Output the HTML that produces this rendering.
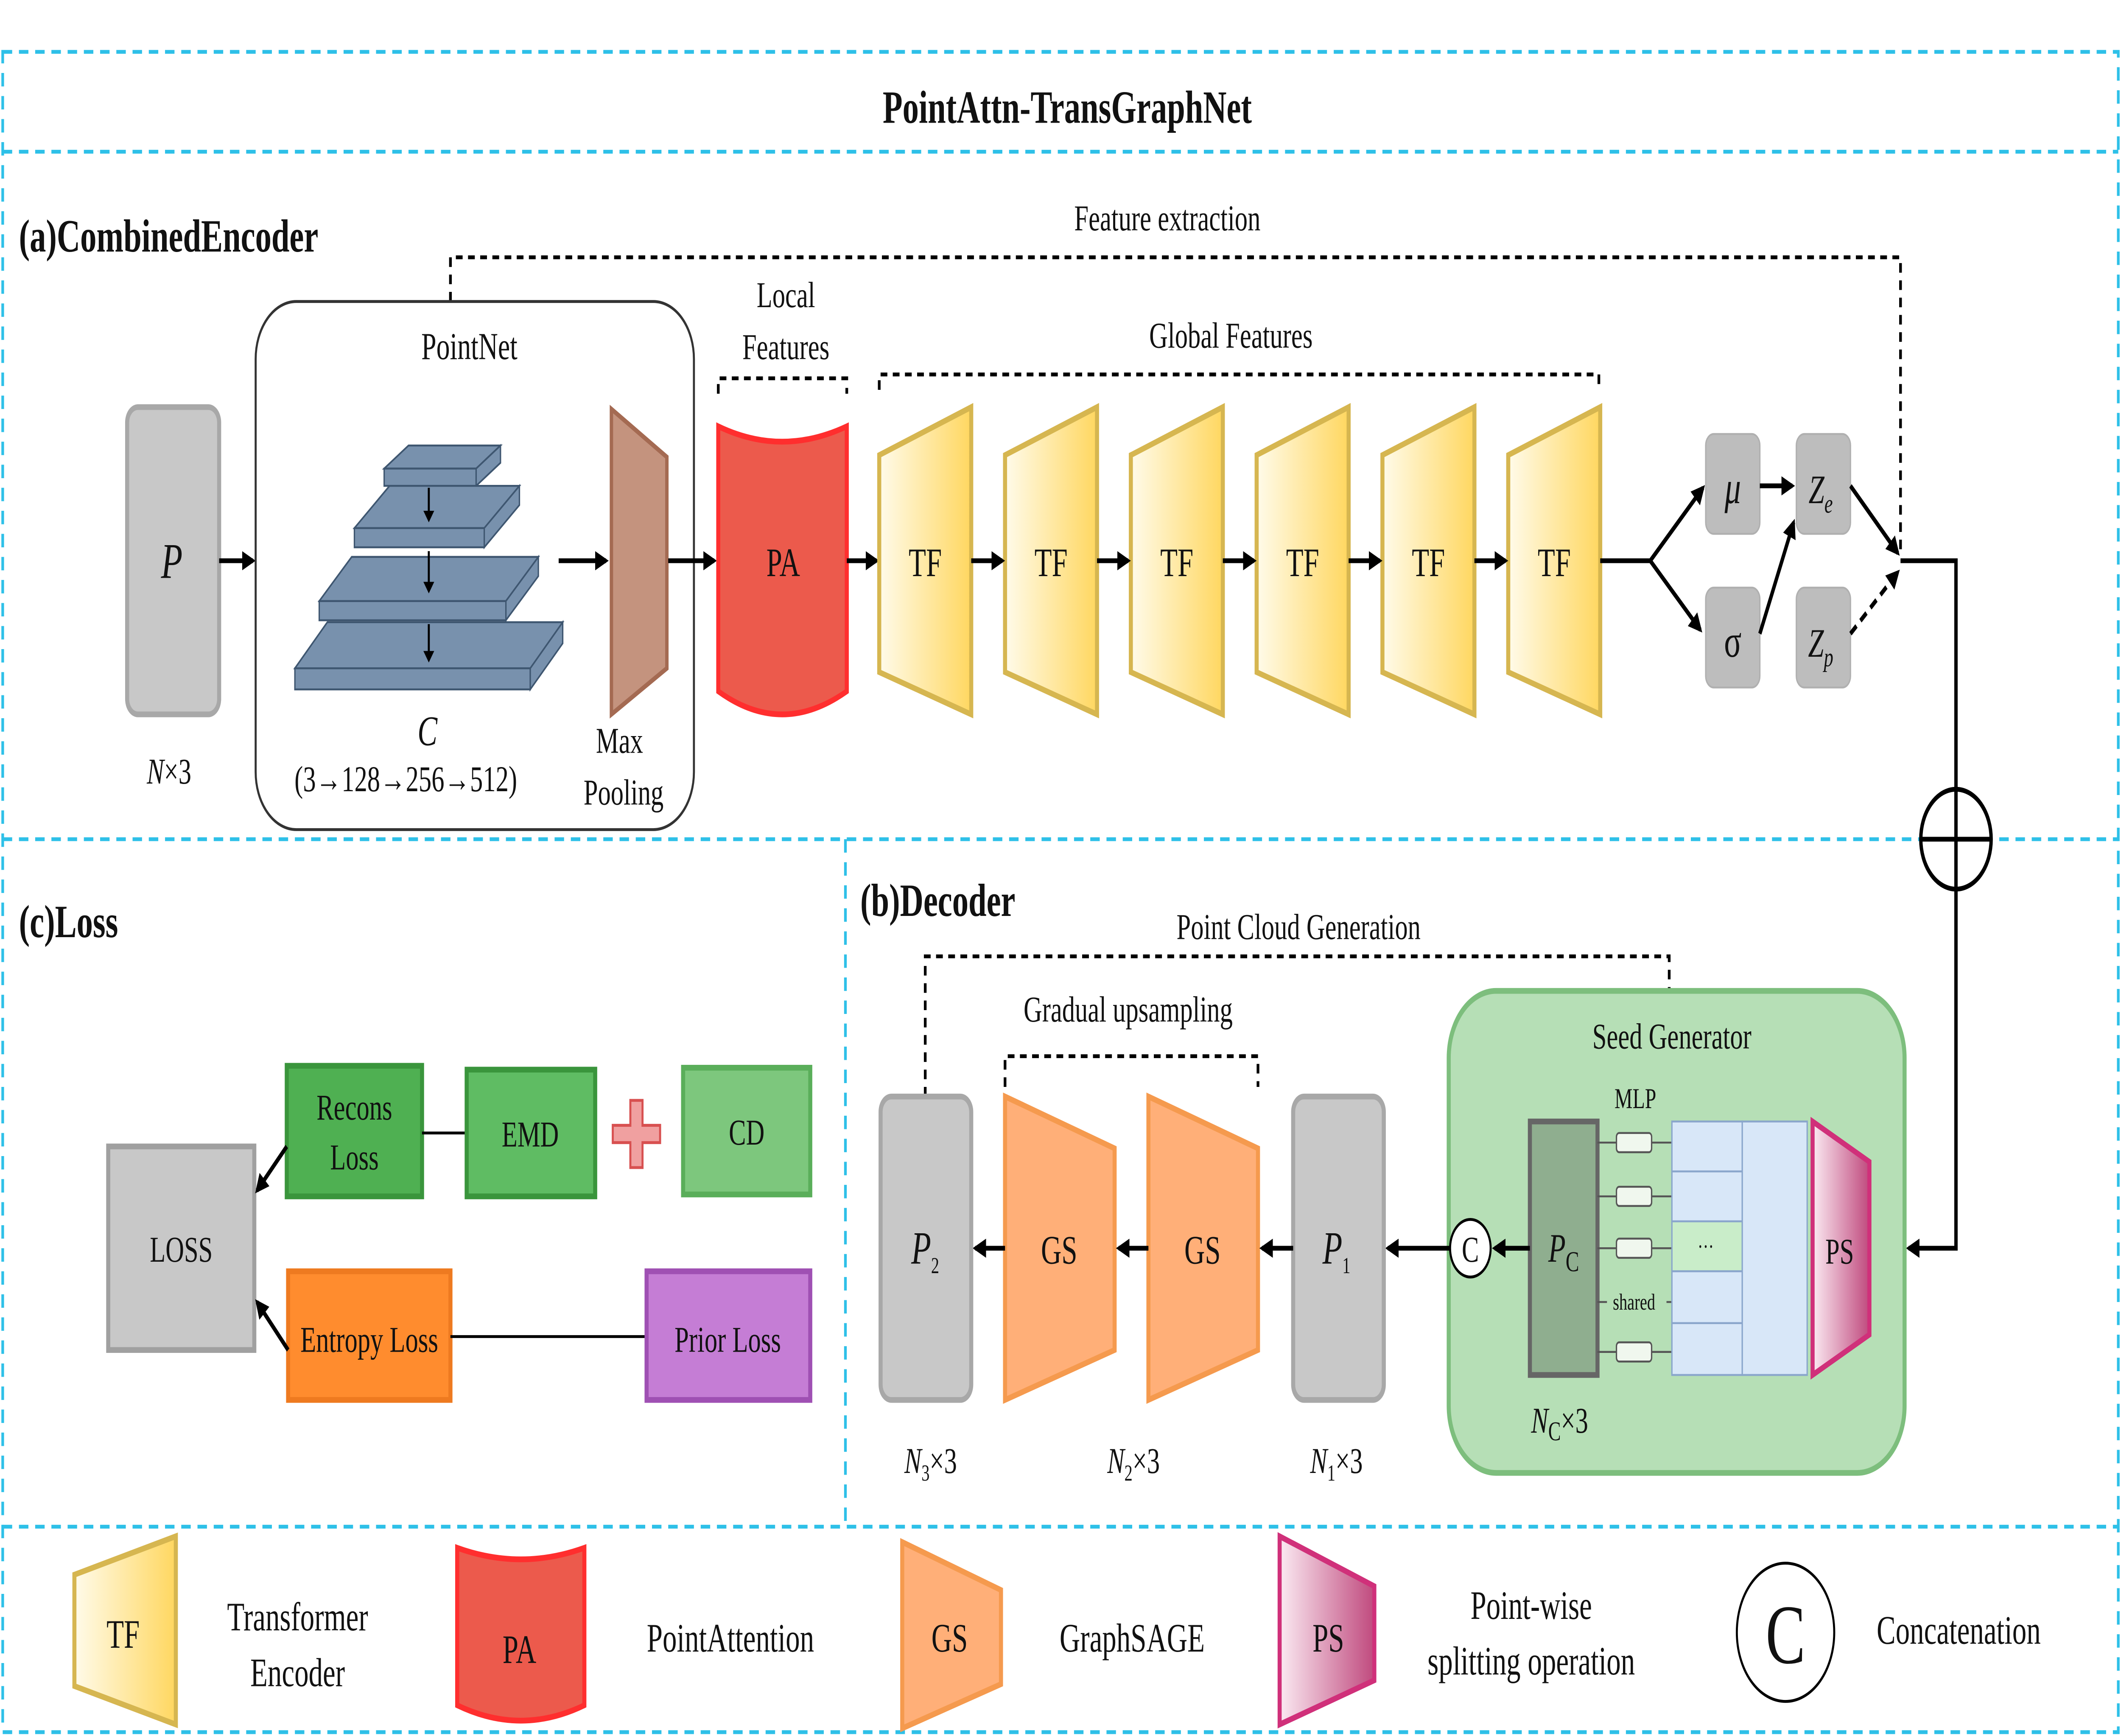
<!DOCTYPE html>
<html><head><meta charset="utf-8"><style>
html,body{margin:0;padding:0;background:#fff;overflow:hidden;width:100%;height:100%}
svg{display:block;width:100vw;height:100vh}
text{font-family:"Liberation Serif",serif;fill:#111}
</style></head><body>
<svg viewBox="0 0 1568 904" preserveAspectRatio="none" xmlns="http://www.w3.org/2000/svg">
<defs>
<marker id="ar" markerWidth="10" markerHeight="10" refX="8" refY="5" orient="auto" markerUnits="userSpaceOnUse"><path d="M0,0 L10,5 L0,10 z" fill="#000"/></marker>
<linearGradient id="tf" x1="0" x2="1" y1="0" y2="0"><stop offset="0" stop-color="#FFFBEA"/><stop offset="1" stop-color="#FFD760"/></linearGradient>
<linearGradient id="ps" x1="0" x2="1"><stop offset="0" stop-color="#FBEAF2"/><stop offset="1" stop-color="#C04A7E"/></linearGradient>
</defs>
<rect width="1568" height="904" fill="#fff"/>
<g stroke="#2EC0E8" stroke-width="2" stroke-dasharray="7,5" fill="none">
<rect x="2" y="27" width="1564" height="875"/>
<line x1="2" y1="79" x2="1566" y2="79"/>
<line x1="2" y1="437" x2="1566" y2="437"/>
<line x1="625" y1="437" x2="625" y2="795"/>
<line x1="2" y1="795" x2="1566" y2="795"/>
</g>
<text x="789" y="64" font-size="24" font-weight="bold" text-anchor="middle">PointAttn-TransGraphNet</text>
<text x="14" y="131" font-size="24" font-weight="bold">(a)CombinedEncoder</text>

<polyline points="333,157 333,134 1405,134 1405,286" fill="none" stroke="#000" stroke-width="2" stroke-dasharray="5,4"/>
<text x="863" y="120" font-size="19" text-anchor="middle">Feature extraction</text>

<rect x="94" y="212" width="68" height="160" rx="8" fill="#C8C8C8" stroke="#A8A8A8" stroke-width="3"/>
<text x="127" y="301" font-size="26" font-style="italic" text-anchor="middle">P</text>
<text x="125" y="408" font-size="19" text-anchor="middle"><tspan font-style="italic">N</tspan>×3</text>
<line x1="162" y1="292" x2="187" y2="292" stroke="#000" stroke-width="2.5" marker-end="url(#ar)"/>

<rect x="189" y="157" width="324" height="275" rx="30" fill="none" stroke="#333" stroke-width="1.5"/>
<text x="347" y="187" font-size="20" text-anchor="middle">PointNet</text>
<g fill="#7891AD" stroke="#3E5670" stroke-width="1">
<polygon points="284,244 352,244 370,232 302,232" /><rect x="284" y="244" width="68" height="9"/><polygon points="352,244 370,232 370,241 352,253"/>
<polygon points="262,275 358,275 384,253 288,253"/><rect x="262" y="275" width="96" height="10"/><polygon points="358,275 384,253 384,263 358,285"/>
<polygon points="236,313 374,313 398,290 260,290"/><rect x="236" y="313" width="138" height="10"/><polygon points="374,313 398,290 398,300 374,323"/>
<polygon points="218,348 392,348 416,324 242,324"/><rect x="218" y="348" width="174" height="11"/><polygon points="392,348 416,324 416,335 392,359"/>
</g>
<g stroke="#000" stroke-width="1.5"><line x1="317" y1="254" x2="317" y2="268"/><line x1="317" y1="287" x2="317" y2="305"/><line x1="317" y1="325" x2="317" y2="341"/></g>
<g fill="#000"><path d="M313,266 L321,266 L317,272z"/><path d="M313,303 L321,303 L317,309z"/><path d="M313,339 L321,339 L317,345z"/></g>
<text x="316" y="388" font-size="22" font-style="italic" text-anchor="middle">C</text>
<text x="300" y="412" font-size="19" text-anchor="middle">(3→128→256→512)</text>
<polygon points="452,213 493,238 493,348 452,372" fill="#C4937E" stroke="#A46A52" stroke-width="2.5"/>
<text x="458" y="392" font-size="19" text-anchor="middle">Max</text>
<text x="461" y="419" font-size="19" text-anchor="middle">Pooling</text>
<line x1="413" y1="292" x2="448" y2="292" stroke="#000" stroke-width="2.5" marker-end="url(#ar)"/>
<line x1="494" y1="292" x2="528" y2="292" stroke="#000" stroke-width="2.5" marker-end="url(#ar)"/>

<path d="M531,222 Q578,238 626,222 L626,360 Q578,384 531,360 Z" fill="#EC5A4C" stroke="#FF2E2E" stroke-width="3"/>
<text x="579" y="300" font-size="21" text-anchor="middle">PA</text>
<text x="581" y="160" font-size="19" text-anchor="middle">Local</text>
<text x="581" y="187" font-size="19" text-anchor="middle">Features</text>
<polyline points="531,205 531,197 626,197 626,205" fill="none" stroke="#000" stroke-width="2" stroke-dasharray="5,4"/>
<line x1="626" y1="292" x2="648" y2="292" stroke="#000" stroke-width="2.5" marker-end="url(#ar)"/>

<g stroke="#D6B650" stroke-width="3" fill="url(#tf)">
<polygon points="650,237 718,212 718,372 650,350"/>
<polygon points="743,237 811,212 811,372 743,350"/>
<polygon points="836,237 904,212 904,372 836,350"/>
<polygon points="929,237 997,212 997,372 929,350"/>
<polygon points="1022,237 1090,212 1090,372 1022,350"/>
<polygon points="1115,237 1183,212 1183,372 1115,350"/>
</g>
<g font-size="21" text-anchor="middle">
<text x="684" y="300">TF</text><text x="777" y="300">TF</text><text x="870" y="300">TF</text><text x="963" y="300">TF</text><text x="1056" y="300">TF</text><text x="1149" y="300">TF</text>
</g>
<g stroke="#000" stroke-width="2.5" marker-end="url(#ar)">
<line x1="718" y1="292" x2="741" y2="292"/><line x1="811" y1="292" x2="834" y2="292"/><line x1="904" y1="292" x2="927" y2="292"/><line x1="997" y1="292" x2="1020" y2="292"/><line x1="1090" y1="292" x2="1113" y2="292"/>
</g>
<polyline points="650,203 650,195 1182,195 1182,203" fill="none" stroke="#000" stroke-width="2" stroke-dasharray="5,4"/>
<text x="910" y="181" font-size="19" text-anchor="middle">Global Features</text>

<polyline points="1183,292 1220,292" stroke="#000" stroke-width="2.5" fill="none"/>
<line x1="1220" y1="292" x2="1259" y2="254" stroke="#000" stroke-width="2.5" marker-end="url(#ar)"/>
<line x1="1220" y1="292" x2="1257" y2="328" stroke="#000" stroke-width="2.5" marker-end="url(#ar)"/>
<g fill="#BDBDBD" stroke="#B0B0B0"><rect x="1261" y="226" width="40" height="52" rx="6"/><rect x="1261" y="306" width="40" height="52" rx="6"/><rect x="1328" y="226" width="40" height="52" rx="6"/><rect x="1328" y="306" width="40" height="52" rx="6"/></g>
<text x="1281" y="262" font-size="24" font-style="italic" text-anchor="middle">μ</text>
<text x="1281" y="342" font-size="24" text-anchor="middle">σ</text>
<text x="1346" y="262" font-size="21" font-style="italic" text-anchor="middle">Z<tspan font-size="14" dy="5">e</tspan></text>
<text x="1346" y="342" font-size="21" font-style="italic" text-anchor="middle">Z<tspan font-size="14" dy="5">p</tspan></text>
<line x1="1301" y1="253" x2="1325" y2="253" stroke="#000" stroke-width="2.5" marker-end="url(#ar)"/>
<line x1="1301" y1="330" x2="1326" y2="272" stroke="#000" stroke-width="2.5" marker-end="url(#ar)"/>
<line x1="1368" y1="253" x2="1403" y2="288" stroke="#000" stroke-width="2.5" marker-end="url(#ar)"/>
<line x1="1368" y1="330" x2="1403" y2="298" stroke="#000" stroke-width="2.5" stroke-dasharray="6,4" marker-end="url(#ar)"/>
<polyline points="1405,292 1446,292 1446,411" fill="none" stroke="#000" stroke-width="2.5"/>
<circle cx="1446" cy="437" r="26" fill="#fff" stroke="#000" stroke-width="2.5"/>
<line x1="1420" y1="437" x2="1472" y2="437" stroke="#000" stroke-width="2.5"/>
<line x1="1446" y1="411" x2="1446" y2="463" stroke="#000" stroke-width="2.5"/>
<polyline points="1446,463 1446,650 1411,650" fill="none" stroke="#000" stroke-width="2.5" marker-end="url(#ar)"/>

<text x="636" y="477" font-size="24" font-weight="bold">(b)Decoder</text>
<polyline points="684,571 684,498 1234,498 1234,516" fill="none" stroke="#000" stroke-width="2" stroke-dasharray="5,4"/>
<text x="960" y="489" font-size="19" text-anchor="middle">Point Cloud Generation</text>
<rect x="1071" y="516" width="337" height="251" rx="35" fill="#B6DFB6" stroke="#7DBE7D" stroke-width="3"/>
<text x="1236" y="546" font-size="19" text-anchor="middle">Seed Generator</text>
<text x="1209" y="577" font-size="15" text-anchor="middle">MLP</text>
<rect x="1131" y="584" width="50" height="132" fill="#8FAE8F" stroke="#666" stroke-width="3"/>
<text x="1156" y="657" font-size="21" font-style="italic" text-anchor="middle">P<tspan font-size="15" font-style="normal" dy="5">C</tspan></text>
<g stroke="#555" stroke-width="1" fill="#F0F7EE">
<line x1="1181" y1="595" x2="1236" y2="595"/><line x1="1181" y1="623" x2="1236" y2="623"/><line x1="1181" y1="650" x2="1236" y2="650"/><line x1="1181" y1="678" x2="1236" y2="678"/><line x1="1181" y1="704" x2="1236" y2="704"/>
<rect x="1195" y="590" width="26" height="10" rx="2"/><rect x="1195" y="618" width="26" height="10" rx="2"/><rect x="1195" y="645" width="26" height="10" rx="2"/><rect x="1195" y="699" width="26" height="10" rx="2"/>
</g>
<rect x="1188" y="672" width="44" height="12" fill="#B6DFB6"/>
<text x="1208" y="682" font-size="12" font-family="Liberation Sans" text-anchor="middle">shared</text>
<g fill="#D8E7F8" stroke="#8AA6CC" stroke-width="1">
<rect x="1236" y="584" width="52" height="26"/><rect x="1236" y="610" width="52" height="26"/><rect x="1236" y="636" width="52" height="26" fill="#C9EDC9"/><rect x="1236" y="662" width="52" height="27"/><rect x="1236" y="689" width="52" height="27"/>
<rect x="1288" y="584" width="48" height="132"/>
</g>
<text x="1261" y="653" font-size="12" text-anchor="middle">···</text>
<polygon points="1340,584 1382,605 1382,695 1340,716" fill="url(#ps)" stroke="#D0307A" stroke-width="3"/>
<text x="1360" y="658" font-size="19" text-anchor="middle">PS</text>
<text x="1153" y="746" font-size="19" text-anchor="middle"><tspan font-style="italic">N</tspan><tspan font-size="14" dy="4">C</tspan><tspan dy="-4">×3</tspan></text>
<line x1="1131" y1="650" x2="1105" y2="650" stroke="#000" stroke-width="2.5" marker-end="url(#ar)"/>
<circle cx="1087" cy="650" r="15" fill="#fff" stroke="#000" stroke-width="1.5"/>
<text x="1087" y="657" font-size="19" text-anchor="middle">C</text>
<line x1="1072" y1="650" x2="1026" y2="650" stroke="#000" stroke-width="2.5" marker-end="url(#ar)"/>
<rect x="956" y="571" width="67" height="158" rx="8" fill="#C8C8C8" stroke="#A8A8A8" stroke-width="3"/>
<text x="988" y="658" font-size="24" font-style="italic" text-anchor="middle">P<tspan font-size="12" font-style="normal" dy="5">1</tspan></text>
<text x="988" y="767" font-size="19" text-anchor="middle"><tspan font-style="italic">N</tspan><tspan font-size="12" dy="4">1</tspan><tspan dy="-4">×3</tspan></text>
<g fill="#FFAF78" stroke="#F59A4E" stroke-width="3">
<polygon points="743,571 824,598 824,703 743,729"/>
<polygon points="849,571 930,598 930,703 849,729"/>
</g>
<text x="783" y="658" font-size="21" text-anchor="middle">GS</text>
<text x="889" y="658" font-size="21" text-anchor="middle">GS</text>
<line x1="956" y1="650" x2="933" y2="650" stroke="#000" stroke-width="2.5" marker-end="url(#ar)"/>
<line x1="849" y1="650" x2="827" y2="650" stroke="#000" stroke-width="2.5" marker-end="url(#ar)"/>
<line x1="743" y1="650" x2="721" y2="650" stroke="#000" stroke-width="2.5" marker-end="url(#ar)"/>
<polyline points="743,566 743,550 930,550 930,566" fill="none" stroke="#000" stroke-width="2" stroke-dasharray="5,4"/>
<text x="834" y="532" font-size="19" text-anchor="middle">Gradual upsampling</text>
<text x="838" y="767" font-size="19" text-anchor="middle"><tspan font-style="italic">N</tspan><tspan font-size="12" dy="4">2</tspan><tspan dy="-4">×3</tspan></text>
<rect x="651" y="571" width="67" height="158" rx="8" fill="#C8C8C8" stroke="#A8A8A8" stroke-width="3"/>
<text x="684" y="658" font-size="24" font-style="italic" text-anchor="middle">P<tspan font-size="12" font-style="normal" dy="5">2</tspan></text>
<text x="688" y="767" font-size="19" text-anchor="middle"><tspan font-style="italic">N</tspan><tspan font-size="12" dy="4">3</tspan><tspan dy="-4">×3</tspan></text>

<text x="14" y="488" font-size="24" font-weight="bold">(c)Loss</text>
<rect x="80" y="597" width="108" height="106" fill="#C8C8C8" stroke="#A0A0A0" stroke-width="3"/>
<text x="134" y="657" font-size="19" text-anchor="middle">LOSS</text>
<rect x="212" y="555" width="100" height="68" fill="#4FB052" stroke="#3A953C" stroke-width="3"/>
<text x="262" y="583" font-size="19" text-anchor="middle">Recons</text>
<text x="262" y="609" font-size="19" text-anchor="middle">Loss</text>
<line x1="312" y1="590" x2="345" y2="590" stroke="#000" stroke-width="1.5"/>
<rect x="345" y="557" width="95" height="66" fill="#5FBC63" stroke="#3A953C" stroke-width="3"/>
<text x="392" y="597" font-size="19" text-anchor="middle">EMD</text>
<path d="M466,573 h9 v13 h13 v9 h-13 v13 h-9 v-13 h-13 v-9 h13 z" fill="#F0A0A0" stroke="#D85050" stroke-width="1.5"/>
<rect x="505" y="556" width="94" height="66" fill="#7DC77D" stroke="#5AAE5A" stroke-width="3"/>
<text x="552" y="596" font-size="19" text-anchor="middle">CD</text>
<rect x="213" y="662" width="120" height="67" fill="#FF8C2E" stroke="#EE7A20" stroke-width="3"/>
<text x="273" y="704" font-size="19" text-anchor="middle">Entropy Loss</text>
<line x1="333" y1="696" x2="478" y2="696" stroke="#000" stroke-width="1.5"/>
<rect x="478" y="662" width="121" height="67" fill="#C57DD5" stroke="#9F50B3" stroke-width="3"/>
<text x="538" y="704" font-size="19" text-anchor="middle">Prior Loss</text>
<line x1="212" y1="597" x2="190" y2="620" stroke="#000" stroke-width="2.5" marker-end="url(#ar)"/>
<line x1="213" y1="703" x2="190" y2="678" stroke="#000" stroke-width="2.5" marker-end="url(#ar)"/>

<polygon points="55,820 130,800 130,898 55,878" fill="url(#tf)" stroke="#D6B650" stroke-width="3"/>
<text x="91" y="858" font-size="21" text-anchor="middle">TF</text>
<text x="220" y="849" font-size="21" text-anchor="middle">Transformer</text>
<text x="220" y="878" font-size="21" text-anchor="middle">Encoder</text>
<path d="M338,806 Q385,818 432,806 L432,888 Q385,904 338,888 Z" fill="#EC5A4C" stroke="#FF2E2E" stroke-width="3"/>
<text x="384" y="866" font-size="21" text-anchor="middle">PA</text>
<text x="540" y="860" font-size="21" text-anchor="middle">PointAttention</text>
<polygon points="667,803 740,828 740,877 667,900" fill="#FFAF78" stroke="#F59A4E" stroke-width="3"/>
<text x="702" y="860" font-size="21" text-anchor="middle">GS</text>
<text x="837" y="860" font-size="21" text-anchor="middle">GraphSAGE</text>
<polygon points="946,800 1016,826 1016,875 946,898" fill="url(#ps)" stroke="#D0307A" stroke-width="3"/>
<text x="982" y="860" font-size="21" text-anchor="middle">PS</text>
<text x="1132" y="843" font-size="21" text-anchor="middle">Point-wise</text>
<text x="1132" y="872" font-size="21" text-anchor="middle">splitting operation</text>
<circle cx="1320" cy="850" r="36" fill="#fff" stroke="#000" stroke-width="1.5"/>
<text x="1320" y="866" font-size="44" text-anchor="middle">C</text>
<text x="1448" y="856" font-size="21" text-anchor="middle">Concatenation</text>
</svg>
</body></html>
